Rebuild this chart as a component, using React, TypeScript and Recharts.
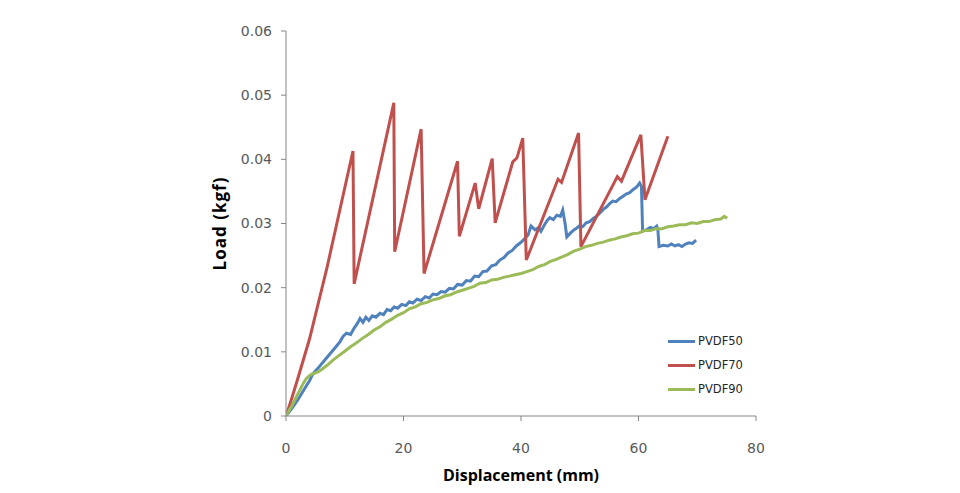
import React from 'react';
import { LineChart, Line, XAxis, YAxis } from 'recharts';

const xTicks = [0, 20, 40, 60, 80];
const yTicks = [0, 0.01, 0.02, 0.03, 0.04, 0.05, 0.06];

const seriesNames = ['PVDF50', 'PVDF70', 'PVDF90'];
const seriesColors = ['#4F81BD', '#C0504D', '#9BBB59'];

const pvdf50X = [0, 1, 2, 3, 4, 4.6, 5.5, 6.5, 7.5, 8.5, 9.2, 9.7, 10.3, 11, 11.6, 12.2, 12.6, 13.1, 13.6, 14.1, 14.7, 15.3, 16, 16.6, 17.2, 17.8, 18.4, 19, 19.7, 20.4, 21, 21.6, 22.3, 23, 23.7, 24.4, 25, 25.7, 26.4, 27.1, 27.8, 28.5, 29.2, 30, 30.7, 31.4, 32.1, 32.8, 33.5, 34.2, 35, 35.7, 36.4, 37.1, 37.8, 38.5, 39.2, 39.9, 40.6, 41.2, 41.7, 42.4, 43, 43.4, 44, 44.5, 44.9, 45.5, 46.1, 46.7, 47.1, 47.5, 47.8, 48.4, 49, 49.5, 49.9, 50.5, 51.1, 51.7, 52.3, 52.8, 53.4, 54, 54.6, 55.1, 55.6, 56.2, 56.8, 57.3, 57.9, 58.5, 59.1, 59.7, 60.2, 60.5, 60.7, 61.3, 62, 62.6, 63.1, 63.3, 63.5, 64.2, 65, 65.6, 66.2, 66.8, 67.4, 68, 68.6, 69.2, 69.8];
const pvdf50Y = [0, 0.0012, 0.0025, 0.0040, 0.0055, 0.0066, 0.0075, 0.0086, 0.0097, 0.0108, 0.0116, 0.0124, 0.0129, 0.0127, 0.0137, 0.0145, 0.0152, 0.0146, 0.0154, 0.0149, 0.0156, 0.0154, 0.0160, 0.0158, 0.0166, 0.0164, 0.0170, 0.0168, 0.0174, 0.0172, 0.0178, 0.0176, 0.0182, 0.0180, 0.0186, 0.0184, 0.0190, 0.0189, 0.0194, 0.0193, 0.0199, 0.0198, 0.0205, 0.0204, 0.0211, 0.0210, 0.0218, 0.0217, 0.0225, 0.0226, 0.0234, 0.0236, 0.0243, 0.0247, 0.0254, 0.0258, 0.0265, 0.0270, 0.0276, 0.0282, 0.0296, 0.0290, 0.0294, 0.0288, 0.0298, 0.0305, 0.0309, 0.0306, 0.0313, 0.0311, 0.0321, 0.0300, 0.0279, 0.0285, 0.0290, 0.0293, 0.0296, 0.0295, 0.0301, 0.0303, 0.0308, 0.0311, 0.0316, 0.0322, 0.0326, 0.0331, 0.0335, 0.0334, 0.0339, 0.0342, 0.0346, 0.0348, 0.0353, 0.0357, 0.0363, 0.0358, 0.0288, 0.0290, 0.0294, 0.0292, 0.0296, 0.0290, 0.0264, 0.0266, 0.0265, 0.0268, 0.0265, 0.0267, 0.0264, 0.0268, 0.0270, 0.0269, 0.0274];

const pvdf70X = [0, 1, 2, 4, 7, 11.4, 11.6, 18.35, 18.5, 23.0, 23.5, 29.2, 29.5, 32.2, 32.8, 35.1, 35.6, 38.6, 39.3, 40.3, 40.9, 46.3, 46.9, 49.8, 50.2, 56.4, 57.1, 60.4, 61.1, 65.0];
const pvdf70Y = [0, 0.0028, 0.0058, 0.0120, 0.0232, 0.0413, 0.0206, 0.0488, 0.0256, 0.0447, 0.0222, 0.0397, 0.0280, 0.0363, 0.0323, 0.0401, 0.0301, 0.0396, 0.0402, 0.0433, 0.0243, 0.0369, 0.0364, 0.0441, 0.0264, 0.0373, 0.0366, 0.0438, 0.0337, 0.0436];

const pvdf90X = [0, 0.5, 1, 1.5, 2, 2.5, 3, 3.5, 4, 4.5, 5, 5.5, 6, 7, 8, 9, 10, 11, 12, 13, 14, 15, 16, 17, 18, 19, 20, 21, 22, 23, 24, 25, 26, 27, 28, 29, 30, 31, 32, 33, 34, 35, 36, 37, 38, 39, 40, 41, 42, 43, 44, 45, 46, 47, 48, 49, 50, 51, 52, 53, 54, 55, 56, 57, 58, 59, 60, 61, 62, 63, 64, 65, 66, 67, 68, 69, 70, 71, 72, 73, 74, 74.6, 75.1];
const pvdf90Y = [0, 0.0008, 0.0016, 0.0025, 0.0034, 0.0043, 0.0052, 0.0059, 0.0063, 0.0066, 0.0067, 0.0069, 0.0072, 0.0079, 0.0087, 0.0094, 0.0101, 0.0108, 0.0114, 0.0121, 0.0127, 0.0134, 0.0139, 0.0146, 0.0151, 0.0157, 0.0161, 0.0167, 0.0170, 0.0175, 0.0177, 0.0181, 0.0183, 0.0187, 0.0189, 0.0193, 0.0196, 0.0199, 0.0202, 0.0207, 0.0208, 0.0212, 0.0213, 0.0216, 0.0218, 0.0220, 0.0222, 0.0225, 0.0228, 0.0233, 0.0236, 0.0241, 0.0244, 0.0248, 0.0252, 0.0257, 0.0260, 0.0264, 0.0266, 0.0269, 0.0271, 0.0274, 0.0276, 0.0279, 0.0281, 0.0284, 0.0285, 0.0289, 0.0289, 0.0292, 0.0292, 0.0295, 0.0296, 0.0298, 0.0298, 0.0301, 0.0300, 0.0303, 0.0303, 0.0306, 0.0307, 0.0311, 0.0308];

const toPoints = (xs: number[], ys: number[]) => xs.map((x, i) => ({ x, y: ys[i] }));
const seriesData = [
  toPoints(pvdf50X, pvdf50Y),
  toPoints(pvdf70X, pvdf70Y),
  toPoints(pvdf90X, pvdf90Y),
];

const tickFont = { fontFamily: 'DejaVu Sans', fontSize: 14, fill: '#595959' };

const LegendBox = () => (
  <div style={{ position: 'absolute', left: 668, top: 329, fontFamily: 'DejaVu Sans', fontSize: 11.5, color: '#262626' }}>
    {seriesNames.map((n, i) => (
      <div key={n} style={{ display: 'flex', alignItems: 'center', height: 24 }}>
        <div style={{ width: 27, height: 3, background: seriesColors[i], marginRight: 3 }} />
        <span>{n}</span>
      </div>
    ))}
  </div>
);

export default function App() {
  return (
    <div style={{ position: 'absolute', left: 0, top: 0, width: 960, height: 493, background: '#fff' }}>
      <LineChart width={960} height={493} margin={{ top: 31, right: 204, left: 0, bottom: 0 }}>
        <XAxis
          type="number"
          dataKey="x"
          domain={[0, 80]}
          ticks={xTicks}
          allowDataOverflow
          stroke="#868686"
          tickSize={5}
          tickMargin={22}
          height={77}
          tick={tickFont}
          tickLine={{ stroke: '#868686' }}
          label={{ value: 'Displacement (mm)', position: 'insideBottom', offset: 12, style: { fontFamily: 'Open Sans', fontWeight: 700, fontSize: 16, fill: '#000' } }}
        />
        <YAxis
          type="number"
          dataKey="y"
          domain={[0, 0.06]}
          ticks={yTicks}
          allowDataOverflow
          width={286}
          stroke="#868686"
          tickSize={5}
          tickMargin={9}
          tick={tickFont}
          tickLine={{ stroke: '#868686' }}
          tickFormatter={(v: number) => (v === 0 ? '0' : v.toFixed(2))}
          label={{ value: 'Load (kgf)', angle: -90, position: 'insideRight', offset: 66, style: { fontFamily: 'Open Sans', fontWeight: 700, fontSize: 17, letterSpacing: 1, fill: '#000', textAnchor: 'middle' } }}
        />
        {seriesData.map((d, i) => (
          <Line
            key={seriesNames[i]}
            data={d}
            dataKey="y"
            name={seriesNames[i]}
            type="linear"
            stroke={seriesColors[i]}
            strokeWidth={3}
            dot={false}
            isAnimationActive={false}
          />
        ))}
      </LineChart>
      <LegendBox />
    </div>
  );
}
